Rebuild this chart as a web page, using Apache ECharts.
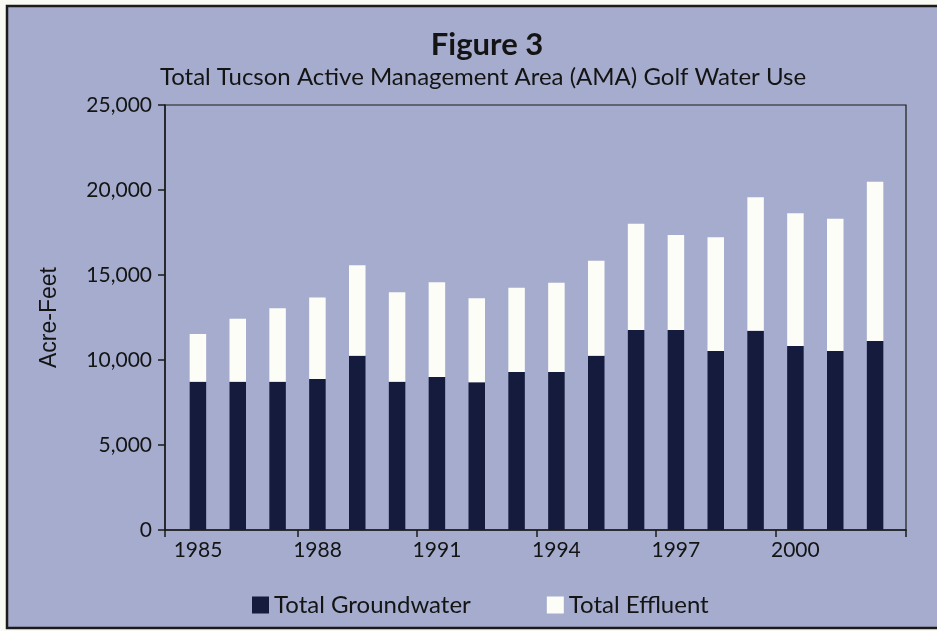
<!DOCTYPE html>
<html>
<head>
<meta charset="utf-8">
<title>Figure 3 - Tucson AMA Golf Water Use</title>
<script src="https://cdn.jsdelivr.net/npm/echarts@6/dist/echarts.min.js"></script>
<style>
  html, body { margin: 0; padding: 0; background: #fafaf4; }
  #chart { width: 937px; height: 631px; }
</style>
</head>
<body>
<div id="chart"></div>
<script>
// values (acre-feet)
const years = ["1985", "1986", "1987", "1988", "1989", "1990", "1991", "1992", "1993",
               "1994", "1995", "1996", "1997", "1998", "1999", "2000", "2001", "2002"];
const groundwater = [8720, 8720, 8720, 8880, 10250, 8720, 9000, 8690, 9290,
                     9290, 10250, 11760, 11760, 10530, 11720, 10820, 10530, 11120];
const effluent = [2810, 3710, 4320, 4790, 5320, 5260, 5570, 4940, 4960,
                  5260, 5590, 6260, 5590, 6690, 7850, 7810, 7780, 9370];
// frame axis (in years): labelled years and tick marks between bars
const yearLabels = [1985, 1988, 1991, 1994, 1997, 2000];
const yearTicks = [1984.17, 1987.5, 1990.5, 1993.5, 1996.5, 1999.5, 2002.78];

const bg = "#a6accd";
const navy = "#141b3c";
const ink = "#141414";
const font = "Lato, 'DejaVu Sans', sans-serif";
const line = { color: "#1b1b1b", width: 1.5 };

const chart = echarts.init(document.getElementById("chart"), null, { renderer: "canvas" });

chart.setOption({
  animation: false,
  backgroundColor: "#fafaf4",
  graphic: [{
    type: "rect",
    z: -10,
    shape: { x: 7, y: 6, width: 940, height: 622 },
    style: { fill: bg, stroke: "#1b1b1b", lineWidth: 2.5 }
  }],
  title: [
    {
      text: "Figure 3",
      left: 482, top: 24, textAlign: "center",
      textStyle: { fontFamily: font, fontWeight: "bold", fontSize: 31, color: ink }
    },
    {
      text: "Total Tucson Active Management Area (AMA) Golf Water Use",
      left: 478, top: 60, textAlign: "center",
      textStyle: { fontFamily: font, fontWeight: "normal", fontSize: 24, color: ink }
    }
  ],
  legend: {
    left: 247, top: 588,
    itemWidth: 17, itemHeight: 17, itemGap: 76,
    icon: "rect",
    textStyle: { fontFamily: font, fontSize: 24, color: ink },
    data: ["Total Groundwater", "Total Effluent"]
  },
  grid: [
    // frame: axes, ticks and labels
    { left: 165, right: 31, top: 105, bottom: 101,
      show: true, borderColor: "#1b1b1b", borderWidth: 1.2, backgroundColor: "transparent" },
    // bars
    { left: 178, right: 42, top: 105, bottom: 101 }
  ],
  xAxis: [
    {
      gridIndex: 0, type: "value",
      min: yearTicks[0], max: yearTicks[yearTicks.length - 1],
      splitLine: { show: false },
      axisLine: { show: true, lineStyle: line },
      axisTick: { show: true, length: 7, customValues: yearTicks, lineStyle: line },
      axisLabel: {
        customValues: yearLabels, margin: 10,
        fontFamily: font, fontSize: 21, color: ink,
        formatter: v => String(v)
      }
    },
    {
      gridIndex: 1, type: "category", data: years,
      axisLine: { show: false }, axisTick: { show: false }, axisLabel: { show: false }
    }
  ],
  yAxis: [
    {
      gridIndex: 0, type: "value",
      min: 0, max: 25000, interval: 5000,
      name: "Acre-Feet", nameLocation: "middle", nameRotate: 90, nameGap: 104,
      nameTextStyle: { fontFamily: "'Liberation Sans', Arial, sans-serif", fontSize: 23, color: ink },
      splitLine: { show: false },
      axisLine: { show: true, lineStyle: line },
      axisTick: { show: true, length: 7, lineStyle: line },
      axisLabel: {
        margin: 13, fontFamily: font, fontSize: 21, color: ink,
        formatter: v => v.toLocaleString("en-US")
      }
    },
    {
      gridIndex: 1, type: "value", min: 0, max: 25000, show: false
    }
  ],
  series: [
    {
      name: "Total Groundwater",
      type: "bar", stack: "water", barWidth: 16.5,
      xAxisIndex: 1, yAxisIndex: 1,
      itemStyle: { color: navy },
      data: groundwater
    },
    {
      name: "Total Effluent",
      type: "bar", stack: "water", barWidth: 16.5,
      xAxisIndex: 1, yAxisIndex: 1,
      itemStyle: { color: "#fdfdf8" },
      data: effluent
    }
  ]
});
</script>
</body>
</html>
